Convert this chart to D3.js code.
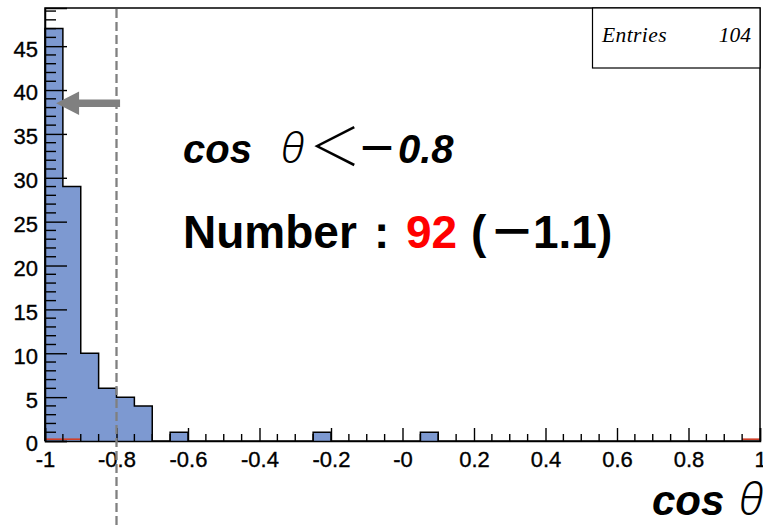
<!DOCTYPE html>
<html>
<head>
<meta charset="utf-8">
<script src="https://cdn.jsdelivr.net/npm/d3@7"></script>
<style>
  html, body { margin: 0; padding: 0; background: #fff; }
  svg { display: block; }
</style>
</head>
<body>
<svg id="chart" width="763" height="526"></svg>
<script>
// cos(theta) histogram: 40 bins of width 0.05 over [-1, 1]
const binLowEdge = -1;
const binWidth = 0.05;
const counts = [47, 29, 10, 6, 5, 4, 0, 1, 0, 0,
                0, 0, 0, 0, 0, 1, 0, 0, 0, 0,
                0, 1, 0, 0, 0, 0, 0, 0, 0, 0,
                0, 0, 0, 0, 0, 0, 0, 0, 0, 0];
// second (reference) histogram, nearly empty
const refCounts = [0.15, 0.15, 0, 0, 0, 0, 0, 0, 0, 0,
                   0, 0, 0, 0, 0, 0, 0, 0, 0, 0,
                   0, 0, 0, 0, 0, 0, 0, 0, 0, 0,
                   0, 0, 0, 0, 0, 0, 0, 0, 0, 0.15];
const xTickValues = [-1, -0.8, -0.6, -0.4, -0.2, 0, 0.2, 0.4, 0.6, 0.8, 1];
const xTickLabels = ["-1", "-0.8", "-0.6", "-0.4", "-0.2", "-0", "0.2", "0.4", "0.6", "0.8", "1"];
const yTickValues = [0, 5, 10, 15, 20, 25, 30, 35, 40, 45];
const entries = 104;
const cutValue = -0.8;
const arrowFrom = [-0.79, 38.5];
const arrowTo = [-0.969, 38.5];

const svg = d3.select("#chart");
const padL = 45, padR = 760, padT = 8, padB = 441;

const x = d3.scaleLinear().domain([-1, 1]).range([padL, padR]);
const y = d3.scaleLinear().domain([0, 49.35]).range([padB, padT]);

// step points for a histogram
function stepPoints(vals) {
  const pts = [];
  vals.forEach((v, i) => {
    const lo = binLowEdge + i * binWidth;
    pts.push([lo, v], [lo + binWidth, v]);
  });
  return pts;
}

const pts = stepPoints(counts);
svg.append("path")
  .attr("d", d3.area().x(d => x(d[0])).y0(y(0)).y1(d => y(d[1]))(pts))
  .attr("fill", "#7d99d1");
svg.append("path")
  .attr("d", d3.line().x(d => x(d[0])).y(d => y(d[1]))(
      [[-1, 0], ...pts, [1, 0]]))
  .attr("fill", "none").attr("stroke", "#000").attr("stroke-width", 1.5);

// reference histogram: only its non-empty bins show above the axis
refCounts.forEach((v, i) => {
  if (v <= 0) return;
  const lo = binLowEdge + i * binWidth;
  svg.append("line")
    .attr("x1", x(lo)).attr("x2", x(lo + binWidth))
    .attr("y1", y(v) - 0.5).attr("y2", y(v) - 0.5)
    .attr("stroke", "#d0402a").attr("stroke-width", 1.6);
});

// frame
svg.append("path")
  .attr("d", `M${padL},${padB}V${padT}H${padR}V${padB}`)
  .attr("fill", "none").attr("stroke", "#000").attr("stroke-width", 1.5);

const labelFont = "'Liberation Sans', Arial, sans-serif";

// x axis (ticks point into the plot)
const xMinor = d3.range(-1, 1.0001, 0.05).filter(v => Math.abs(Math.round(v * 5) - v * 5) > 1e-6);
const xAxis = d3.axisBottom(x).tickValues(xTickValues).tickSize(-13)
  .tickFormat((d, i) => xTickLabels[i]).tickPadding(0);
const gx = svg.append("g").attr("transform", `translate(0,${padB})`).call(xAxis);
gx.select(".domain").attr("stroke", "#000").attr("stroke-width", 1.5);
gx.selectAll(".tick line").attr("stroke", "#000").attr("stroke-width", 1.4);
gx.selectAll(".tick text")
  .attr("y", 26).attr("dy", 0)
  .attr("font-family", labelFont)
  .attr("font-size", 22).attr("fill", "#000")
  .attr("stroke", "#000").attr("stroke-width", 0.35);
gx.selectAll(".minor").data(xMinor).enter().append("line")
  .attr("x1", d => x(d)).attr("x2", d => x(d))
  .attr("y1", 0).attr("y2", -7)
  .attr("stroke", "#000").attr("stroke-width", 1.4);

// y axis
const yMinor = d3.range(0, 50, 1).filter(v => v % 5 !== 0);
const yAxis = d3.axisLeft(y).tickValues(yTickValues).tickSize(-22)
  .tickFormat(d3.format("d")).tickPadding(0);
const gy = svg.append("g").attr("transform", `translate(${padL},0)`).call(yAxis);
gy.select(".domain").attr("stroke", "#000").attr("stroke-width", 1.5);
gy.selectAll(".tick line").attr("stroke", "#000").attr("stroke-width", 1.4);
gy.selectAll(".tick text")
  .attr("x", -7).attr("dy", "0.45em")
  .attr("font-family", labelFont)
  .attr("font-size", 22).attr("fill", "#000")
  .attr("stroke", "#000").attr("stroke-width", 0.35);
gy.selectAll(".minor").data(yMinor).enter().append("line")
  .attr("x1", 0).attr("x2", 11)
  .attr("y1", d => y(d)).attr("y2", d => y(d))
  .attr("stroke", "#000").attr("stroke-width", 1.4);

// cut line
svg.append("line")
  .attr("x1", x(cutValue)).attr("x2", x(cutValue))
  .attr("y1", padT + 1).attr("y2", 526)
  .attr("stroke", "#808080").attr("stroke-width", 2.3)
  .attr("stroke-dasharray", "9,4");

// arrow pointing to the selected region
const ax0 = x(arrowFrom[0]), ax1 = x(arrowTo[0]), ay = y(arrowFrom[1]);
svg.append("path")
  .attr("d", `M${ax0},${ay - 3.7}H${ax1 + 23}V${ay - 11.7}L${ax1},${ay}L${ax1 + 23},${ay + 11.7}V${ay + 3.7}H${ax0}Z`)
  .attr("fill", "#808080");

// statistics box
svg.append("rect")
  .attr("x", 592.5).attr("y", padT).attr("width", padR - 592.5).attr("height", 60)
  .attr("fill", "#fff").attr("stroke", "#000").attr("stroke-width", 1.2);
svg.append("text").attr("x", 602).attr("y", 42)
  .attr("font-family", "'Liberation Serif', 'Times New Roman', serif")
  .attr("font-style", "italic").attr("font-size", 21.5).attr("fill", "#000")
  .attr("letter-spacing", 0.4)
  .text("Entries");
svg.append("text").attr("x", 751).attr("y", 42).attr("text-anchor", "end")
  .attr("font-family", "'Liberation Serif', 'Times New Roman', serif")
  .attr("font-style", "italic").attr("font-size", 21.5).attr("fill", "#000")
  .text(entries);

// annotation: selection condition
const sans = "'Liberation Sans', Arial, sans-serif";
const cjk = "'Noto Sans CJK JP', sans-serif";
const t1 = svg.append("text").attr("y", 163).attr("font-size", 40).attr("fill", "#000");
t1.append("tspan").attr("x", 183).attr("font-family", sans)
  .attr("font-weight", "bold").attr("font-style", "italic").text("cos");
t1.append("tspan").attr("x", 281).attr("font-family", "'Noto Sans', sans-serif")
  .attr("font-style", "italic").attr("font-weight", 300).attr("font-size", 42).text("θ");
t1.append("tspan").attr("x", 309).attr("y", 166).attr("font-family", cjk)
  .attr("font-weight", 300).attr("font-size", 52).text("＜");
t1.append("tspan").attr("x", 357).attr("y", 163).attr("font-family", cjk)
  .attr("font-weight", "bold").text("－");
t1.append("tspan").attr("x", 398).attr("font-family", sans)
  .attr("font-weight", "bold").attr("font-style", "italic").text("0.8");

// annotation: selected count
const t2 = svg.append("text").attr("y", 248).attr("font-size", 46)
  .attr("font-family", sans).attr("font-weight", "bold").attr("fill", "#000");
t2.append("tspan").attr("x", 183).text("Number");
t2.append("tspan").attr("x", 374).text(":");
t2.append("tspan").attr("x", 406).attr("fill", "#ff0000").text("92");
t2.append("tspan").attr("x", 471).text("(");
t2.append("tspan").attr("x", 489).attr("font-family", cjk).text("－");
t2.append("tspan").attr("x", 533).text("1.1)");

// x-axis title
const t3 = svg.append("text").attr("y", 515).attr("font-size", 42).attr("fill", "#000");
t3.append("tspan").attr("x", 652).attr("font-family", sans)
  .attr("font-weight", "bold").attr("font-style", "italic").text("cos");
t3.append("tspan").attr("x", 739).attr("font-family", "'Noto Sans', sans-serif")
  .attr("font-style", "italic").attr("font-weight", 300).attr("font-size", 44).text("θ");
</script>
</body>
</html>
